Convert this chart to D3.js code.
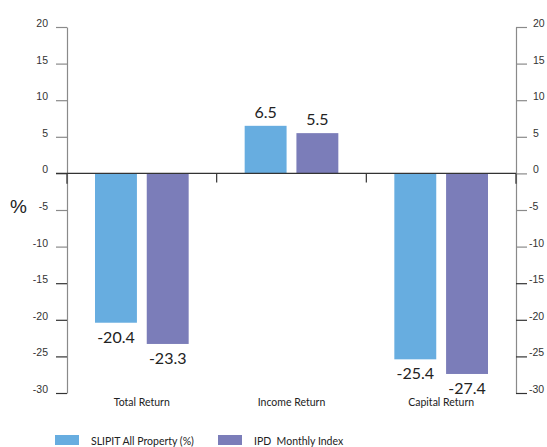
<!DOCTYPE html>
<html>
<head>
<meta charset="utf-8">
<script src="https://cdn.jsdelivr.net/npm/d3@7"></script>
<style>
  html, body { margin: 0; padding: 0; background: #fff; }
  svg { display: block; }
</style>
</head>
<body>
<svg id="chart" width="547" height="447"></svg>
<script>
// Return components, percent
const categories = ["Total Return", "Income Return", "Capital Return"];
const seriesNames = ["SLIPIT All Property (%)", "IPD  Monthly Index"];
const slipitValues = [-20.4, 6.5, -25.4];
const ipdValues = [-23.3, 5.5, -27.4];
const tickValues = [20, 15, 10, 5, 0, -5, -10, -15, -20, -25, -30];
const colors = ["#67ade0", "#7b7db9"];

const svg = d3.select("#chart");
const left = 67, right = 516;

const y = d3.scaleLinear().domain([-30, 20]).range([393, 27]);
const x0 = d3.scaleBand().domain(categories).range([left, right]);
const x1 = d3.scaleBand().domain(seriesNames)
  .range([28, x0.bandwidth() - 28]).paddingInner(0.19);

const rows = categories.map((c, i) => ({
  category: c,
  values: [
    { name: seriesNames[0], value: slipitValues[i] },
    { name: seriesNames[1], value: ipdValues[i] }
  ]
}));

const fmt = d => String(d); // plain hyphen for negatives

function styleAxis(g) {
  g.select(".domain").attr("stroke", "#8a8a8a").attr("stroke-width", 1.2);
  g.selectAll(".tick line")
    .attr("stroke", d => d <= -15 ? "#333" : "#8a8a8a")
    .attr("stroke-width", 1.2);
  g.selectAll(".tick text")
    .attr("font-family", "'Liberation Sans', Arial, sans-serif")
    .attr("font-size", 10.5)
    .attr("fill", "#333")
    .attr("dy", "-0.05em");
}

const yLeft = d3.axisLeft(y).tickValues(tickValues).tickFormat(fmt)
  .tickSize(11).tickSizeOuter(0).tickPadding(8);
const gl = svg.append("g").attr("transform", `translate(${left},0)`).call(yLeft);
styleAxis(gl);

const yRight = d3.axisRight(y).tickValues(tickValues).tickFormat(fmt)
  .tickSize(11).tickSizeOuter(0).tickPadding(6);
const gr = svg.append("g").attr("transform", `translate(${right},0)`).call(yRight);
styleAxis(gr);
// digits line up; the minus sign hangs to the left
gr.selectAll(".tick text").attr("x", d => d < 0 ? 13 : 17);

// darker segment of each axis just below zero
[left, right].forEach(px => {
  svg.append("line")
    .attr("x1", px).attr("x2", px)
    .attr("y1", y(0)).attr("y2", y(-1.4))
    .attr("stroke", "#444").attr("stroke-width", 1.4);
});

// Bars
const groups = svg.append("g").selectAll("g")
  .data(rows).join("g")
  .attr("transform", d => `translate(${x0(d.category)},0)`);

groups.selectAll("rect")
  .data(d => d.values).join("rect")
  .attr("x", d => x1(d.name))
  .attr("width", x1.bandwidth())
  .attr("y", d => y(Math.max(0, d.value)))
  .attr("height", d => Math.abs(y(d.value) - y(0)))
  .attr("fill", (d, i) => colors[i]);

groups.selectAll("text.value")
  .data(d => d.values).join("text")
  .attr("class", "value")
  .attr("x", d => x1(d.name) + x1.bandwidth() / 2)
  .attr("y", d => d.value >= 0 ? y(d.value) - 8 : y(d.value) + 20)
  .attr("text-anchor", "middle")
  .attr("font-family", "Lato, 'Open Sans', sans-serif")
  .attr("font-size", 16)
  .attr("fill", "#222")
  .text(d => d.value.toFixed(1));

// Zero line with category separators
svg.append("line")
  .attr("x1", 56).attr("x2", right)
  .attr("y1", y(0)).attr("y2", y(0))
  .attr("stroke", "#333").attr("stroke-width", 1.2);

categories.slice(1).forEach(c => {
  svg.append("line")
    .attr("x1", x0(c)).attr("x2", x0(c))
    .attr("y1", y(0)).attr("y2", y(0) + 9)
    .attr("stroke", "#333").attr("stroke-width", 1.2);
});

// Category labels
svg.append("g").selectAll("text")
  .data(categories).join("text")
  .attr("x", d => x0(d) + x0.bandwidth() / 2)
  .attr("y", 406)
  .attr("text-anchor", "middle")
  .attr("font-family", "Lato, 'Open Sans', sans-serif")
  .attr("font-size", 10.5)
  .attr("fill", "#222")
  .text(d => d);

// Unit label
svg.append("text")
  .attr("x", 10).attr("y", 213)
  .attr("font-family", "'Liberation Sans', Arial, sans-serif")
  .attr("font-size", 19)
  .attr("fill", "#222")
  .text("%");

// Legend
const legendX = [55, 218];
const lg = svg.append("g").selectAll("g")
  .data(seriesNames).join("g")
  .attr("transform", (d, i) => `translate(${legendX[i]},435)`);
lg.append("rect")
  .attr("width", 24).attr("height", 10)
  .attr("fill", (d, i) => colors[i]);
lg.append("text")
  .attr("x", 36).attr("y", 10)
  .attr("font-family", "Lato, 'Open Sans', sans-serif")
  .attr("font-size", 10.5)
  .attr("fill", "#222")
  .style("white-space", "pre")
  .text(d => d);
</script>
</body>
</html>
